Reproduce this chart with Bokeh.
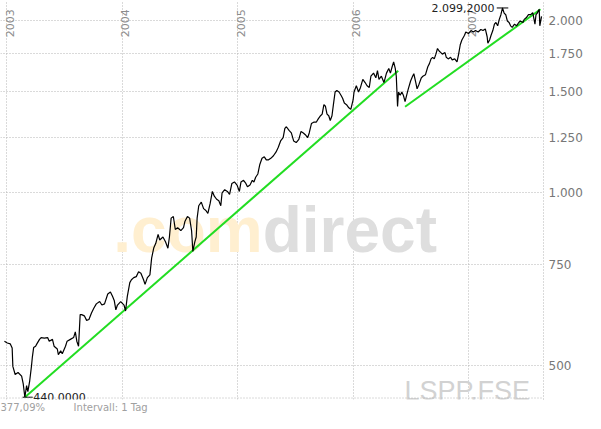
import math
from bokeh.plotting import figure
from bokeh.models import Range1d, FixedTicker, Span, Label, Title
from bokeh.core.properties import value
from bokeh.embed import file_html
from bokeh.resources import INLINE

# ---- data (decimal years, closing prices) ----
years = [
    2002.979, 2003.004, 2003.030, 2003.046, 2003.052, 2003.072, 2003.097, 2003.128, 2003.142, 2003.156,
    2003.171, 2003.182, 2003.198, 2003.213, 2003.221, 2003.232, 2003.249, 2003.260, 2003.283, 2003.297,
    2003.325, 2003.353, 2003.367, 2003.395, 2003.409, 2003.437, 2003.446, 2003.466, 2003.480, 2003.508,
    2003.522, 2003.550, 2003.578, 2003.593, 2003.606, 2003.621, 2003.635, 2003.648, 2003.671, 2003.691,
    2003.711, 2003.733, 2003.753, 2003.775, 2003.804, 2003.823, 2003.846, 2003.874, 2003.897, 2003.916,
    2003.930, 2003.944, 2003.958, 2003.986, 2004.015, 2004.028, 2004.043, 2004.065, 2004.079, 2004.099,
    2004.121, 2004.141, 2004.161, 2004.184, 2004.197, 2004.217, 2004.239, 2004.254, 2004.273, 2004.290,
    2004.310, 2004.324, 2004.352, 2004.374, 2004.395, 2004.408, 2004.423, 2004.442, 2004.459, 2004.479,
    2004.507, 2004.530, 2004.543, 2004.564, 2004.583, 2004.600, 2004.611, 2004.628, 2004.640, 2004.648,
    2004.662, 2004.684, 2004.704, 2004.724, 2004.741, 2004.760, 2004.780, 2004.797, 2004.817, 2004.836,
    2004.853, 2004.864, 2004.887, 2004.910, 2004.929, 2004.949, 2004.971, 2004.994, 2005.014, 2005.028,
    2005.050, 2005.070, 2005.084, 2005.106, 2005.126, 2005.140, 2005.155, 2005.174, 2005.191, 2005.210,
    2005.230, 2005.247, 2005.267, 2005.286, 2005.309, 2005.332, 2005.351, 2005.371, 2005.393, 2005.408,
    2005.421, 2005.444, 2005.464, 2005.484, 2005.506, 2005.529, 2005.548, 2005.568, 2005.585, 2005.605,
    2005.619, 2005.638, 2005.661, 2005.681, 2005.697, 2005.717, 2005.731, 2005.746, 2005.759, 2005.773,
    2005.788, 2005.801, 2005.816, 2005.830, 2005.843, 2005.858, 2005.877, 2005.894, 2005.908, 2005.923,
    2005.942, 2005.962, 2005.979, 2005.999, 2006.007, 2006.027, 2006.046, 2006.063, 2006.083, 2006.103,
    2006.120, 2006.139, 2006.153, 2006.176, 2006.196, 2006.210, 2006.223, 2006.244, 2006.266, 2006.288,
    2006.308, 2006.322, 2006.337, 2006.350, 2006.364, 2006.373, 2006.384, 2006.392, 2006.407, 2006.421,
    2006.434, 2006.449, 2006.463, 2006.477, 2006.497, 2006.514, 2006.525, 2006.542, 2006.553, 2006.570,
    2006.590, 2006.603, 2006.626, 2006.646, 2006.660, 2006.674, 2006.688, 2006.702, 2006.716, 2006.730,
    2006.744, 2006.759, 2006.772, 2006.795, 2006.806, 2006.823, 2006.843, 2006.857, 2006.879, 2006.899,
    2006.913, 2006.927, 2006.941, 2006.964, 2006.975, 2006.998, 2007.020, 2007.040, 2007.059, 2007.082,
    2007.105, 2007.124, 2007.144, 2007.160, 2007.166, 2007.181, 2007.194, 2007.209, 2007.223, 2007.236,
    2007.251, 2007.265, 2007.279, 2007.293, 2007.307, 2007.321, 2007.335, 2007.350, 2007.363, 2007.377,
    2007.397, 2007.414, 2007.434, 2007.447, 2007.470, 2007.481, 2007.498, 2007.518, 2007.538, 2007.555,
    2007.566, 2007.574, 2007.583, 2007.594, 2007.611, 2007.616, 2007.631,
]
closes = [
    551, 547, 545, 536, 498, 482, 486, 479, 464, 440,
    461, 450, 470, 498, 517, 537, 540, 545, 555, 559,
    558, 559, 551, 555, 540, 534, 522, 530, 524, 540,
    551, 555, 559, 572, 551, 540, 613, 613, 610, 599,
    601, 617, 629, 640, 646, 637, 640, 666, 671, 659,
    649, 625, 637, 646, 637, 622, 659, 697, 705, 711,
    714, 728, 724, 705, 692, 711, 719, 769, 802, 816,
    846, 827, 837, 821, 800, 837, 903, 909, 863, 869,
    859, 869, 892, 909, 903, 859, 790, 821, 837, 903,
    949, 963, 938, 931, 920, 956, 1005, 986, 974, 968,
    949, 999, 1012, 1005, 993, 1038, 1044, 1031, 1005, 1044,
    1051, 1038, 1024, 1031, 1051, 1044, 1064, 1078, 1120, 1148,
    1155, 1141, 1141, 1148, 1160, 1178, 1200, 1231, 1247, 1295,
    1303, 1284, 1271, 1231, 1223, 1239, 1279, 1271, 1262, 1247,
    1271, 1320, 1328, 1328, 1345, 1362, 1371, 1424, 1415, 1371,
    1362, 1336, 1362, 1433, 1498, 1507, 1498, 1479, 1461, 1433,
    1424, 1406, 1397, 1451, 1498, 1536, 1498, 1526, 1576, 1556,
    1536, 1526, 1596, 1616, 1586, 1632, 1576, 1596, 1556, 1616,
    1647, 1616, 1658, 1690, 1647, 1596, 1413, 1498, 1479, 1498,
    1479, 1442, 1479, 1517, 1566, 1596, 1612, 1556, 1517, 1546,
    1586, 1596, 1606, 1658, 1679, 1711, 1722, 1711, 1744, 1784,
    1766, 1755, 1744, 1755, 1722, 1711, 1722, 1704, 1711, 1690,
    1744, 1811, 1846, 1881, 1906, 1894, 1917, 1906, 1917, 1906,
    1925, 1917, 1930, 1870, 1823, 1846, 1881, 1917, 1967, 1980,
    1954, 2005, 2043, 2099.2, 2056, 2043, 1992, 1980, 1954, 1942,
    1967, 1954, 1980, 1992, 1980, 2005, 2018, 2043, 2043, 2061,
    2005, 1967, 2043, 2056, 2088, 1954, 2030,
]
trend1_years = [2003.156, 2006.390]
trend1_values = [440.0, 1631.0]
trend2_years = [2006.449, 2007.622]
trend2_values = [1412.0, 2088.0]

year_ticks = [2003, 2004, 2005, 2006, 2007]
year_labels = ["2003", "2004", "2005", "2006", "2007"]
price_ticks = [500, 750, 1000, 1250, 1500, 1750, 2000]
price_labels = ["500", "750", "1.000", "1.250", "1.500", "1.750", "2.000"]
high_label = "2.099,2000"
low_label = "440,0000"
symbol_text = "LSPP.FSE"
watermark_left = ".com"
watermark_right = "direct"
footer_perf = "377,09%"
footer_interval = "Intervall: 1 Tag"

x_start, x_end = 2002.945, 2007.648
y_start, y_end = 436.0, 2163.0
chart_floor = 438.6

GRID = "#b4b4b4"

p = figure(width=585, height=413,
           x_range=Range1d(x_start, x_end), y_range=Range1d(y_start, y_end),
           y_axis_type="log", x_axis_location=None, y_axis_location="right",
           output_backend="svg", toolbar_location=None,
           min_border_left=0, min_border_top=0, min_border_right=0, min_border_bottom=0)
p.outline_line_color = None
p.background_fill_color = "white"
p.border_fill_color = "white"

footer_text = footer_perf + "\u00a0" * 9 + footer_interval
p.add_layout(Title(text=footer_text, align="left", standoff=1, offset=0,
                   text_font="DejaVu Sans", text_font_size="10px",
                   text_font_style="normal", text_color="#a0a0a0"), "below")

p.xgrid.ticker = FixedTicker(ticks=year_ticks)
p.xgrid.grid_line_color = GRID
p.xgrid.grid_line_dash = "1 2"
p.ygrid.grid_line_color = GRID
p.ygrid.grid_line_dash = "1 2"

p.yaxis.ticker = FixedTicker(ticks=price_ticks)
p.yaxis.major_label_overrides = {t: l for t, l in zip(price_ticks, price_labels)}
p.yaxis.major_tick_line_color = None
p.yaxis.minor_tick_line_color = None
p.yaxis.major_tick_out = 0
p.yaxis.major_tick_in = 0
p.yaxis.axis_line_color = GRID
p.yaxis.axis_line_dash = "1 2"
p.yaxis.major_label_standoff = 5
p.yaxis.major_label_text_font = "DejaVu Sans"
p.yaxis.major_label_text_font_size = "12px"
p.yaxis.major_label_text_color = "#777777"

p.add_layout(Span(location=chart_floor, dimension="width", line_color=GRID,
                  line_dash="1 2", line_width=1))

# watermark
wm_split = 2005.216
wm_base = 862.0
p.text(x=[wm_split], y=[wm_base], text=[watermark_left], text_align="right",
       text_baseline="alphabetic", text_font=value("Liberation Sans"), text_font_style="bold",
       text_font_size="64px", text_color="#FFEFD0")
p.text(x=[wm_split], y=[wm_base], text=[watermark_right], text_align="left",
       text_baseline="alphabetic", text_font=value("Liberation Sans"), text_font_style="bold",
       text_font_size="64px", text_color="#DEDEDE")
p.text(x=[2007.532], y=[452.0], text=[symbol_text], text_align="right",
       text_baseline="alphabetic", text_font=value("Liberation Sans"),
       text_font_size="27px", text_color="#D2D2D2")

# year labels
p.text(x=year_ticks, y=[2088] * len(year_ticks), text=year_labels, angle=math.pi / 2,
       text_align="right", text_baseline="top", x_offset=-1,
       text_font=value("DejaVu Sans"), text_font_size="11px", text_color="#8c8c8c")

# trend lines
p.line(trend1_years, trend1_values, line_color="#22dd22", line_width=2)
p.line(trend2_years, trend2_values, line_color="#22dd22", line_width=2)

# price
p.line(years, closes, line_color="black", line_width=1.2)

# high / low markers
hi_i = max(range(len(closes)), key=lambda i: closes[i])
lo_i = min(range(len(closes)), key=lambda i: closes[i])
hx, hv = years[hi_i], closes[hi_i]
lx, lv = years[lo_i], closes[lo_i]
p.line([hx - 0.05, hx + 0.05], [hv, hv], line_color="black", line_width=1)
p.add_layout(Label(x=hx - 0.07, y=hv, text=high_label, text_align="right",
                   text_baseline="middle", text_font="DejaVu Sans",
                   text_font_size="11px", text_color="#222222"))
p.line([lx - 0.02, lx + 0.068], [lv, lv], line_color="black", line_width=1)
p.add_layout(Label(x=lx + 0.072, y=lv, text=low_label, text_align="left",
                   text_baseline="middle", text_font="DejaVu Sans",
                   text_font_size="11px", text_color="#222222"))

open("out.html", "w").write(file_html(p, INLINE))
